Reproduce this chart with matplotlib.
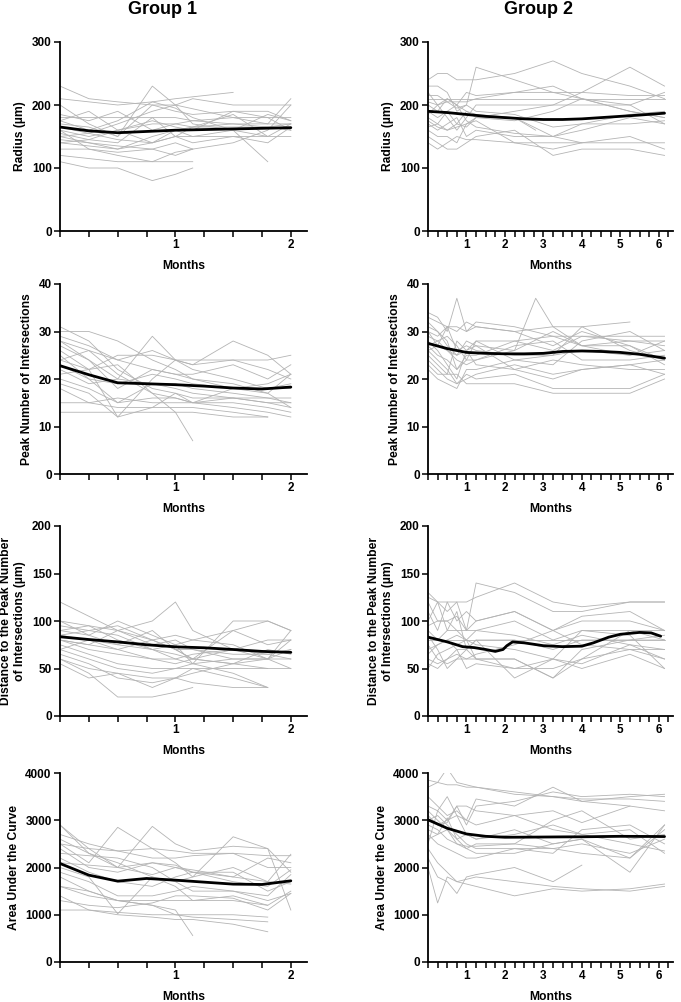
import matplotlib.pyplot as plt
from matplotlib.ticker import MultipleLocator, FixedLocator

plt.rcParams['font.family'] = ['Liberation Sans', 'DejaVu Sans']
plt.rcParams['font.weight'] = 'bold'

# visit months (subjects missing a visit have None)
g1_months = [0, 0.25, 0.5, 0.8, 1.0, 1.15, 1.5, 1.8, 2.0]
g2_months = [0, 0.25, 0.5, 0.75, 1.0, 1.25, 2.25, 2.8, 3.25, 4.0, 5.25, 6.15]

# ---- Group 1 subjects ----
g1_radius = [
    [230, 210, 205, 200, 200, None, 180, 180, 180],
    [210, 205, 200, 205, 210, None, 220, None, None],
    [200, 170, 150, 230, 200, 170, 160, 110, None],
    [180, 180, 180, 180, 180, 175, 170, 170, 170],
    [175, 190, 160, 175, 165, 160, 190, 190, 175],
    [170, 165, 150, 200, 190, 185, 190, 180, 160],
    [165, 155, 145, 140, 160, 165, 170, 165, 160],
    [160, 150, 160, 170, 170, 165, 165, 165, 170],
    [155, 145, 140, 180, 150, 140, 150, 140, 165],
    [150, 140, 130, 140, 150, 150, 150, 150, 150],
    [145, 140, 135, 130, 140, 130, None, None, None],
    [140, 135, 130, 150, 160, 150, 160, 150, None],
    [130, 130, 125, 130, 120, 130, 140, 160, 200],
    [120, 115, 110, 110, 125, 130, None, None, None],
    [110, 100, 100, 80, 90, 100, None, None, None],
    [160, 130, 120, 110, 110, 110, None, None, None],
    [175, 160, 175, 205, 195, 180, 160, 185, 175],
    [185, 175, 190, 160, 170, 175, 180, 170, 210],
    [150, 155, 170, 190, 200, 210, 200, 200, 200],
    [140, 145, 160, 140, 150, 165, 185, 150, 170],
]
g1_peak = [
    [31, 28, 22, 18, 17, 16, 16, 16, 15],
    [30, 30, 28, 24, 22, 20, 18, 17, 21],
    [29, 27, 24, 26, 24, 24, 24, 24, 25],
    [28, 24, 20, 29, 24, 23, 28, 25, 21],
    [27, 24, 18, 22, 21, 21, 23, 20, 23],
    [26, 22, 12, 20, 24, 22, 20, 18, 19],
    [25, 20, 19, 21, 20, 19, 18, 18, 18],
    [24, 22, 23, 17, 13, 7, None, None, None],
    [23, 20, 15, 19, 18, 17, 16, 15, 14],
    [22, 19, 20, 19, 19, 18, 17, 16, 16],
    [20, 18, 15, 16, 16, 15, 15, 14, 13],
    [19, 17, 12, 14, 17, 15, 16, 15, 15],
    [18, 15, 16, 15, 15, 15, 14, 13, 12],
    [15, 15, 14, 14, 14, 14, 13, 12, None],
    [13, 13, 13, 13, 13, 13, 12, 12, None],
    [28, 26, 24, 22, 21, 20, 19, 17, 14],
    [21, 22, 25, 25, 24, 23, 24, 22, 20],
    [24, 26, 21, 17, 16, 15, 18, 19, 21],
]
g1_dist = [
    [120, 105, 90, 80, 70, 60, 55, 50, 50],
    [100, 95, 90, 100, 120, 90, 70, 60, 90],
    [95, 90, 85, 70, 60, 55, 100, 100, 90],
    [90, 85, 100, 85, 75, 80, 90, 75, 80],
    [85, 80, 70, 60, 55, 60, 90, 100, 90],
    [80, 75, 90, 75, 80, 70, 60, 60, 80],
    [80, 70, 65, 60, 60, 65, 70, 65, 70],
    [75, 65, 55, 50, 50, 55, 60, 60, 60],
    [70, 60, 50, 45, 50, 50, 40, 30, None],
    [65, 55, 40, 35, 40, 45, 55, 70, 65],
    [60, 50, 45, 40, 40, 35, 30, 30, None],
    [60, 45, 20, 20, 25, 30, None, None, None],
    [55, 40, 45, 30, 40, 50, 50, 50, None],
    [85, 90, 95, 80, 70, 70, 65, 65, 60],
    [100, 85, 75, 70, 65, 60, 55, 60, 70],
    [70, 80, 75, 90, 70, 60, 70, 80, 80],
    [80, 75, 70, 80, 85, 80, 75, 60, 50],
    [90, 95, 80, 70, 75, 55, 45, 30, None],
]
g1_auc = [
    [2900, 2400, 2000, 2870, 2500, 2350, 2450, 2400, 1900],
    [2900, 2300, 2100, 1800, 1700, 1800, 2000, 1700, 2280],
    [2700, 2500, 2350, 2200, 2200, 2250, 2300, 2250, 2250],
    [2600, 2300, 2000, 2100, 2000, 1900, 1800, 2200, 2100],
    [2500, 2100, 2850, 2400, 2100, 1800, 2650, 2400, 1100],
    [2400, 2000, 1900, 2100, 2050, 1900, 1700, 1600, 1950],
    [2300, 2250, 2200, 2000, 1700, 1500, 1500, 1400, 1850],
    [2200, 1900, 1700, 1600, 1800, 1900, 1900, 1500, 1700],
    [2000, 1800, 1020, 1800, 1600, 1300, 1400, 1200, 1500],
    [1900, 1700, 1400, 1400, 1500, 1600, 1500, 1300, 1450],
    [1800, 1500, 1300, 1300, 1300, 1300, 1300, 1200, None],
    [1600, 1400, 1300, 1200, 1100, 560, None, None, None],
    [1600, 1500, 1300, 1200, 1000, 950, 900, 850, None],
    [1400, 1100, 1000, 950, 900, 900, 800, 640, None],
    [1100, 1100, 1050, 1000, 1000, 1000, 1000, 950, None],
    [2100, 2050, 2000, 1850, 2000, 1950, 1800, 1700, 1650],
    [1300, 1200, 1150, 1250, 1400, 1400, 1350, 1100, 1450],
    [2500, 2400, 2350, 2400, 2350, 2300, 2300, 2000, 2000],
]

# ---- Group 2 subjects ----
g2_radius = [
    [240, 250, 250, 240, 240, 240, 250, None, 270, 250, 230, 210],
    [230, 230, 220, 190, 200, 260, 240, None, 220, 210, 200, 170],
    [220, 200, 210, 200, 220, 215, 220, None, 230, 210, 190, 180],
    [210, 210, 210, 210, 210, 210, 210, None, 210, 210, 210, 210],
    [205, 200, 180, 160, 180, 200, 200, None, 200, 220, 260, 230],
    [200, 190, 210, 200, 190, 185, 180, 160, None, None, None, None],
    [190, 180, 190, 170, 165, 180, 180, None, 150, 160, 180, 170],
    [180, 170, 160, 170, 190, 180, 175, None, 190, 210, 190, 180],
    [170, 160, 170, 180, 150, 160, 150, None, 150, 170, 170, 175],
    [160, 150, 150, 140, 170, 180, 190, None, 200, 200, 200, 220],
    [150, 140, 130, 130, 140, 150, 160, None, 120, 130, 130, 120],
    [140, 130, 140, 150, 145, 145, 140, None, 130, 140, 140, 140],
    [175, 165, 160, 165, 170, 175, 140, None, 140, 140, None, None],
    [215, 215, 205, 205, 205, 210, 220, None, 220, 220, 215, 215],
    [165, 170, 190, 200, 175, 165, 155, None, 150, 140, 150, 130],
    [185, 200, 205, 195, 200, 190, 185, None, 165, 170, 185, 190],
]
g2_peak = [
    [34, 33, 30, 37, 30, 32, 31, None, 29, 27, 28, 28],
    [33, 32, 31, 31, 30, 31, 30, None, 31, 31, 32, None],
    [32, 30, 28, 22, 24, 28, 28, None, 26, 29, 29, 29],
    [31, 30, 27, 25, 28, 27, 26, None, 30, 27, 25, 28],
    [30, 27, 31, 26, 27, 26, 25, None, 25, 31, 26, 24],
    [29, 28, 26, 24, 23, 24, 26, 37, 31, 27, 27, 23],
    [28, 26, 23, 20, 26, 23, 22, None, 24, 23, 22, 22],
    [27, 25, 24, 22, 25, 25, 28, None, 29, 29, 28, 27],
    [26, 24, 22, 19, 20, 21, 23, None, 21, 22, 23, 21],
    [25, 23, 21, 21, 19, 19, 19, None, 17, 17, 17, 20],
    [24, 22, 20, 19, 21, 20, 21, None, 18, 18, 18, 21],
    [23, 21, 21, 28, 26, 27, 22, None, 20, 22, 23, 24],
    [22, 20, 19, 18, 22, 22, 24, None, 25, 26, 25, 26],
    [27, 28, 29, 27, 24, 24, 27, None, 28, 24, 24, 25],
    [30, 29, 31, 30, 32, 31, 30, None, 27, 30, 27, 24],
    [26, 27, 26, 25, 26, 28, 24, None, 23, 28, 30, 26],
]
g2_dist = [
    [130, 120, 120, 120, 120, 125, 140, None, 120, 115, 120, 120],
    [125, 120, 110, 120, 90, 140, 130, None, 110, 110, 120, 120],
    [120, 100, 100, 105, 90, 100, 110, None, 90, 105, 110, 90],
    [110, 90, 120, 100, 110, 100, 110, None, 90, 100, 100, 90],
    [100, 120, 90, 90, 90, 90, 100, None, 80, 90, 90, 80],
    [90, 80, 90, 110, 70, 80, 80, None, 70, 80, 80, 80],
    [85, 70, 50, 60, 60, 65, 75, None, 90, 75, 70, 70],
    [80, 80, 80, 80, 80, 80, 80, None, 80, 80, 80, 80],
    [75, 60, 55, 60, 70, 60, 60, None, 40, 60, 90, 90],
    [70, 75, 80, 70, 50, 55, 50, None, 50, 60, 70, 60],
    [60, 55, 60, 70, 70, 80, 40, None, 60, 50, 65, 50],
    [50, 65, 70, 75, 80, 75, 70, None, 60, 55, 75, 60],
    [55, 50, 60, 65, 60, 60, 60, None, 40, 70, 80, 85],
    [95, 100, 100, 90, 80, 90, 85, None, 75, 85, 75, 70],
    [65, 75, 80, 85, 80, 60, 50, None, 60, 90, 85, 50],
]
g2_auc = [
    [3850, 3800, 3750, 3750, 3700, 3700, 3550, None, 3500, 3450, 3450, 3400],
    [3700, 3800, 4100, 3800, 3750, 3700, 3600, None, 3500, 3400, 3500, 3550],
    [3500, 3300, 3100, 3200, 3000, 3450, 3300, None, 3700, 3400, 3300, 3200],
    [3300, 3200, 3000, 3300, 2900, 3300, 3400, None, 3600, 3500, 3550, 3500],
    [3200, 3000, 2800, 2600, 2400, 2500, 2500, None, 3000, 3200, 2600, 2700],
    [3100, 2900, 3000, 3100, 2700, 2600, 2800, None, 2500, 2600, 1900, 2900],
    [3000, 3100, 2900, 2700, 2500, 2400, 2400, None, 2400, 2500, 2300, 2600],
    [2900, 2800, 2600, 2500, 2400, 2300, 2300, None, 2500, 2600, 2200, 2900],
    [2800, 2700, 3050, 2600, 2700, 2600, 2700, None, 2900, 2700, 2800, 2300],
    [2700, 2500, 2400, 2300, 2200, 2200, 2400, None, 2300, 2800, 2900, 2500],
    [2600, 2700, 2800, 2500, 2450, 2450, 2500, None, 2400, 2300, 2200, 2800],
    [2500, 3200, 3500, 3100, 3000, 2900, 3100, None, 3200, 2950, 3300, None],
    [2200, 1800, 1700, 1450, 1800, 1850, 2000, None, 1700, 2050, None, None],
    [2000, 1250, 1800, 1700, 1750, 1800, 1700, None, 1600, 1550, 1500, 1600],
    [2400, 2100, 1900, 1700, 1650, 1600, 1400, None, 1550, 1500, 1550, 1650],
    [3000, 2900, 2950, 3300, 3300, 3200, 3100, None, 2800, 2700, 2500, 2350],
]

# ---- smoothed group trends ----
g1_trend_t = [0, 0.25, 0.5, 0.75, 1.0, 1.25, 1.5, 1.75, 2.0]
g1_radius_trend = [165, 159, 156, 158, 160, 161, 162, 163, 164]
g1_peak_trend = [22.8, 20.9, 19.2, 19.0, 18.8, 18.5, 18.1, 17.9, 18.3]
g1_dist_trend = [83.4, 80.5, 78, 75, 72.8, 71.8, 70, 68, 67]
g1_auc_trend = [2085, 1838, 1711, 1768, 1732, 1690, 1648, 1641, 1718]

g2_trend_t = [0, 0.5, 1, 1.5, 2, 2.5, 3, 3.5, 4, 4.5, 5, 5.5, 6.15]
g2_radius_trend = [190, 188, 185, 182, 180, 178, 177, 177, 178, 180, 182, 184, 187]
g2_peak_trend = [27.5, 26.4, 25.6, 25.4, 25.3, 25.3, 25.4, 25.8, 25.9, 25.8, 25.6, 25.2, 24.4]
g2_auc_trend = [3010, 2830, 2710, 2660, 2640, 2642, 2645, 2648, 2650, 2655, 2660, 2658, 2655]
g2_dist_trend_t = [0, 0.5, 0.9, 1.2, 1.5, 1.75, 1.95, 2.05, 2.2, 2.5, 3.0, 3.5,
                   4.0, 4.3, 4.7, 5.0, 5.5, 5.8, 6.05]
g2_dist_trend = [83, 78, 73, 72, 70, 68, 70, 74, 78, 77, 74, 73,
                 73.5, 77, 83, 86, 88, 87.5, 84]

ylabels = ["Radius (µm)", "Peak Number of Intersections",
           "Distance to the Peak Number\nof Intersections (µm)", "Area Under the Curve"]
ymax = [300, 40, 200, 4000]
ystep = [100, 10, 50, 1000]


def draw_panel(ax, months, subjects, trend_t, trend_y, xmax, xmajor, row):
    for vals in subjects:
        xs = [m for m, v in zip(months, vals) if v is not None]
        ys = [v for v in vals if v is not None]
        ax.plot(xs, ys, color="#b4b4b4", lw=0.6, zorder=2)
    ax.plot(trend_t, trend_y, color="black", lw=2.0, zorder=3,
            solid_capstyle="round")
    ax.set_xlim(0, xmax)
    ax.set_ylim(0, ymax[row])
    ax.spines[["top", "right"]].set_visible(False)
    for s in ["left", "bottom"]:
        ax.spines[s].set_linewidth(1.3)
    ax.yaxis.set_major_locator(MultipleLocator(ystep[row]))
    ax.xaxis.set_major_locator(FixedLocator(xmajor))
    ax.set_xticklabels([""] + [str(v) for v in xmajor[1:]])
    ax.xaxis.set_minor_locator(MultipleLocator(0.25))
    ax.tick_params(which="both", direction="out", length=4, width=1.1,
                   labelsize=8.5, pad=2)
    ax.set_xlabel("Months", fontsize=8.7, fontweight="bold", labelpad=6)
    ax.set_ylabel(ylabels[row], fontsize=8.7, fontweight="bold", labelpad=4)


fig = plt.figure(figsize=(6.81, 10.02), dpi=100)
tops = [42, 284, 526, 773]
bots = [231, 474, 716, 962]
H = 1002.0
g1_data = [(g1_radius, g1_trend_t, g1_radius_trend), (g1_peak, g1_trend_t, g1_peak_trend),
           (g1_dist, g1_trend_t, g1_dist_trend), (g1_auc, g1_trend_t, g1_auc_trend)]
g2_data = [(g2_radius, g2_trend_t, g2_radius_trend), (g2_peak, g2_trend_t, g2_peak_trend),
           (g2_dist, g2_dist_trend_t, g2_dist_trend), (g2_auc, g2_trend_t, g2_auc_trend)]

for row in range(4):
    b = 1 - bots[row] / H
    h = (bots[row] - tops[row]) / H
    ax1 = fig.add_axes([60 / 681, b, (307 - 60) / 681, h])
    subj, tt, ty = g1_data[row]
    draw_panel(ax1, g1_months, subj, tt, ty, 2.14, [0, 1, 2], row)
    ax2 = fig.add_axes([428 / 681, b, (673 - 428) / 681, h])
    subj, tt, ty = g2_data[row]
    draw_panel(ax2, g2_months, subj, tt, ty, 6.37, [0, 1, 2, 3, 4, 5, 6], row)

fig.text(163 / 681, 1 - 10 / H, "Group 1", ha="center", va="center",
         fontsize=13, fontweight="bold")
fig.text(539 / 681, 1 - 10 / H, "Group 2", ha="center", va="center",
         fontsize=13, fontweight="bold")

fig.savefig("out.png", dpi=100)
